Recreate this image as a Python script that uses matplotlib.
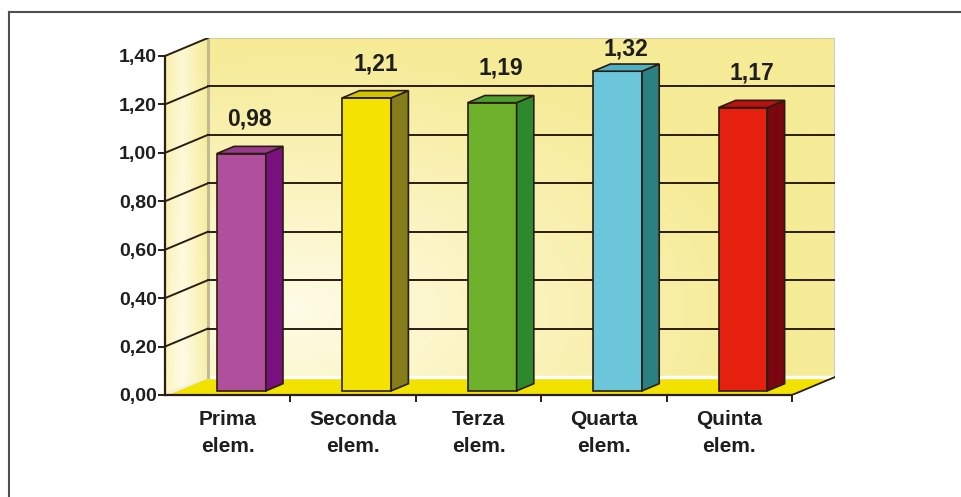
import numpy as np
import matplotlib
matplotlib.use("Agg")
import matplotlib.pyplot as plt
from matplotlib.patches import Polygon, Rectangle
from matplotlib.lines import Line2D

plt.rcParams['font.family'] = ['Liberation Sans', 'DejaVu Sans']
plt.rcParams['font.weight'] = 'bold'

# data
categories = ['Prima\nelem.', 'Seconda\nelem.', 'Terza\nelem.', 'Quarta\nelem.', 'Quinta\nelem.']
values = [0.98, 1.21, 1.19, 1.32, 1.17]
value_labels = ['0,98', '1,21', '1,19', '1,32', '1,17']
yticks = [0.0, 0.2, 0.4, 0.6, 0.8, 1.0, 1.2, 1.4]
ytick_labels = ['0,00', '0,20', '0,40', '0,60', '0,80', '1,00', '1,20', '1,40']

front_cols = ['#b04f9c', '#f4e300', '#6db22a', '#6cc6da', '#e5200f']
side_cols = ['#78107e', '#857c1c', '#2d8a2c', '#2b8080', '#7c0610']
top_cols = ['#983a8c', '#d2c500', '#4e9e2e', '#4eb0c2', '#bd1010']

# 3d look: depth offset of the back wall in data units
DX = 0.3424
DY = 0.0743
f0 = 0.23   # where the bar front sits in depth
fd = 0.40   # bar depth
W = 0.39    # bar width

edge = '#2b1d12'
n = len(values)
ymax = yticks[-1]

fig = plt.figure(figsize=(9.62, 4.97), dpi=100)
ax = fig.add_axes([165/962, 102/497, 670/962, 357/497])
ax.set_xlim(0, n + DX)
ax.set_ylim(0, ymax + DY)
ax.set_facecolor('none')

light = np.array([255, 252, 232]) / 255
yellow = np.array([246, 235, 150]) / 255

# back wall: soft glow low on the left
gx, gy = np.meshgrid(np.linspace(DX, n + DX, 400), np.linspace(DY, ymax + DY, 200))
d = np.sqrt(((gx - 1.0) / 3.8) ** 2 + ((gy - 0.35) / 1.1) ** 2)
t = np.clip(d, 0, 1) ** 0.9
img = light[None, None, :] * (1 - t[..., None]) + yellow[None, None, :] * t[..., None]
im = ax.imshow(img, origin='lower', extent=[DX, n + DX, DY, ymax + DY],
               aspect='auto', zorder=0, interpolation='bilinear')
back = Polygon([(DX, DY), (n + DX, DY), (n + DX, ymax + DY), (DX, ymax + DY)],
               closed=True, facecolor='none', edgecolor='none')
ax.add_patch(back)
im.set_clip_path(back)

# side wall: white streak in the middle
sx, sy = np.meshgrid(np.linspace(0, DX, 100), np.linspace(0, ymax + DY, 200))
ts = np.clip(np.abs(sx / DX - 0.4) / 0.6, 0, 1) * 0.75 + np.clip(sy / (ymax + DY), 0, 1) * 0.25
simg = light[None, None, :] * (1 - ts[..., None]) + yellow[None, None, :] * ts[..., None]
im2 = ax.imshow(simg, origin='lower', extent=[0, DX, 0, ymax + DY],
                aspect='auto', zorder=0, interpolation='bilinear')
side = Polygon([(0, 0), (DX, DY), (DX, ymax + DY), (0, ymax)],
               closed=True, facecolor='none', edgecolor='none')
ax.add_patch(side)
im2.set_clip_path(side)

# floor
ax.add_patch(Polygon([(0, 0), (n, 0), (n + DX, DY), (DX, DY)], closed=True,
                     facecolor='#f2e200', edgecolor='none', zorder=1))
ax.plot([DX, n + DX], [DY, DY], color='white', lw=2.5, zorder=1)
ax.plot([0, DX], [0, DY], color='#f4f0d8', lw=2, zorder=1)
ax.plot([n, n + DX], [0, DY], color=edge, lw=1.3, zorder=2)

# wall edges
ax.plot([DX, DX], [DY, ymax + DY], color='#c2ba94', lw=2.2, zorder=1)
ax.plot([n + DX, n + DX], [DY, ymax + DY], color='#c8c8c8', lw=2, zorder=1)
ax.plot([DX, n + DX], [ymax + DY, ymax + DY], color='#d8cc90', lw=1.5, zorder=1)

# grid lines on the walls
for v in yticks[1:]:
    ax.plot([0, DX], [v, v + DY], color=edge, lw=1.4, zorder=1)
    if v < ymax:
        ax.plot([DX, n + DX], [v + DY, v + DY], color=edge, lw=1.4, zorder=1)

# bars
for i, v in enumerate(values):
    x0 = i + 0.335 + f0 * DX
    y0 = f0 * DY
    x1 = x0 + W
    ex, ey = fd * DX, fd * DY
    ax.add_patch(Rectangle((x0, y0), W, v, facecolor=front_cols[i], edgecolor=edge, lw=1.2, zorder=3))
    ax.add_patch(Polygon([(x1, y0), (x1 + ex, y0 + ey), (x1 + ex, y0 + v + ey), (x1, y0 + v)],
                         closed=True, facecolor=side_cols[i], edgecolor=edge, lw=1.2, zorder=3))
    ax.add_patch(Polygon([(x0, y0 + v), (x1, y0 + v), (x1 + ex, y0 + v + ey), (x0 + ex, y0 + v + ey)],
                         closed=True, facecolor=top_cols[i], edgecolor=edge, lw=1.2, zorder=3))
    ly = min(y0 + v + 0.115, 1.40)
    ax.text(x0 + (W + ex) / 2, ly, value_labels[i], ha='center', va='baseline',
            fontsize=16.5, fontweight='bold', color='#1e1e1e', zorder=4)

# axes
for s in ['top', 'right']:
    ax.spines[s].set_visible(False)
ax.spines['left'].set_bounds(0, ymax)
ax.spines['bottom'].set_bounds(0, n)
for s in ['left', 'bottom']:
    ax.spines[s].set_color(edge)
    ax.spines[s].set_linewidth(1.6)
    ax.spines[s].set_zorder(5)

ax.set_yticks(yticks)
ax.set_yticklabels(ytick_labels)
ax.tick_params(axis='y', direction='out', length=5, width=1.4, color=edge, pad=1,
               labelsize=14, labelcolor='#1e1e1e')
ax.set_xticks(np.arange(n) + 0.5)
ax.set_xticklabels(categories, linespacing=1.5)
ax.set_xticks(np.arange(1, n + 1), minor=True)
ax.tick_params(axis='x', which='major', length=0, pad=11, labelsize=15, labelcolor='#1e1e1e')
ax.tick_params(axis='x', which='minor', direction='out', length=5, width=1.4, color=edge)
for lab in ax.get_xticklabels() + ax.get_yticklabels():
    lab.set_fontweight('bold')

# outer frame
fig.add_artist(Line2D([9/962, 1], [1 - 12/497, 1 - 12/497], transform=fig.transFigure, color='#505050', lw=1.5))
fig.add_artist(Line2D([9/962, 9/962], [0, 1 - 12/497], transform=fig.transFigure, color='#505050', lw=1.5))

fig.savefig('out.png', dpi=100)
